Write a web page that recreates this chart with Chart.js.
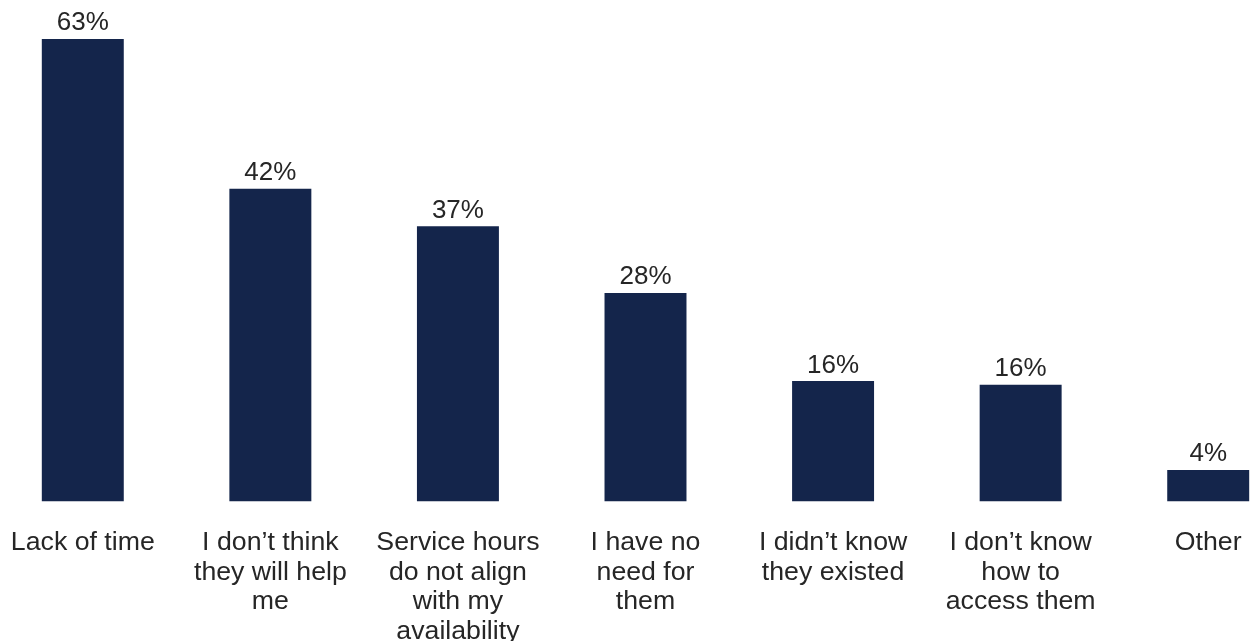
<!DOCTYPE html>
<html>
<head>
<meta charset="utf-8">
<script src="https://cdn.jsdelivr.net/npm/chart.js@4"></script>
<style>
    html, body { margin: 0; padding: 0; background: #ffffff; overflow: hidden; }
    #wrap { position: absolute; left: -11px; top: 0; width: 1313px; height: 641px; }
</style>
</head>
<body>
<div id="wrap"><canvas id="barriersChart"></canvas></div>
<script>
// Reasons for not using the services
const categories = [
    ['Lack of time'],
    ['I don’t think', 'they will help', 'me'],
    ['Service hours', 'do not align', 'with my', 'availability'],
    ['I have no', 'need for', 'them'],
    ['I didn’t know', 'they existed'],
    ['I don’t know', 'how to', 'access them'],
    ['Other']
];
const shares = [63, 42.6, 37.5, 28.4, 16.4, 15.9, 4.3];
const shareLabels = ['63%', '42%', '37%', '28%', '16%', '16%', '4%'];

const textColor = '#262626';
const barColor = '#14254b';

// Draw the percentage above each bar
const valueLabels = {
    id: 'valueLabels',
    afterDatasetsDraw(chart) {
        const ctx = chart.ctx;
        const meta = chart.getDatasetMeta(0);
        ctx.save();
        ctx.font = '26px "Liberation Sans", Arial, sans-serif';
        ctx.fillStyle = textColor;
        ctx.textAlign = 'center';
        ctx.textBaseline = 'alphabetic';
        meta.data.forEach((bar, i) => {
            ctx.fillText(shareLabels[i], bar.x, bar.y - 8.5);
        });
        ctx.restore();
    }
};

const ctx = document.getElementById('barriersChart').getContext('2d');
new Chart(ctx, {
    type: 'bar',
    data: {
        labels: categories,
        datasets: [{
            data: shares,
            backgroundColor: barColor,
            borderWidth: 0,
            categoryPercentage: 1,
            barPercentage: 0.437
        }]
    },
    options: {
        responsive: true,
        maintainAspectRatio: false,
        animation: false,
        layout: { padding: 0 },
        plugins: {
            legend: { display: false },
            tooltip: { enabled: false }
        },
        scales: {
            x: {
                grid: {
                    display: true,
                    drawOnChartArea: false,
                    drawTicks: true,
                    tickLength: 26.5,
                    color: 'rgba(0,0,0,0)'
                },
                border: { display: false },
                ticks: {
                    color: textColor,
                    font: { family: '"Liberation Sans", Arial, sans-serif', size: 26.7, lineHeight: 1.105 },
                    maxRotation: 0,
                    autoSkip: false,
                    padding: 0
                },
                afterFit(scale) {
                    scale.height = 139.5;
                    scale.paddingLeft = 0;
                    scale.paddingRight = 0;
                }
            },
            y: {
                display: false,
                min: 0,
                max: 68.3
            }
        }
    },
    plugins: [valueLabels]
});
</script>
</body>
</html>
